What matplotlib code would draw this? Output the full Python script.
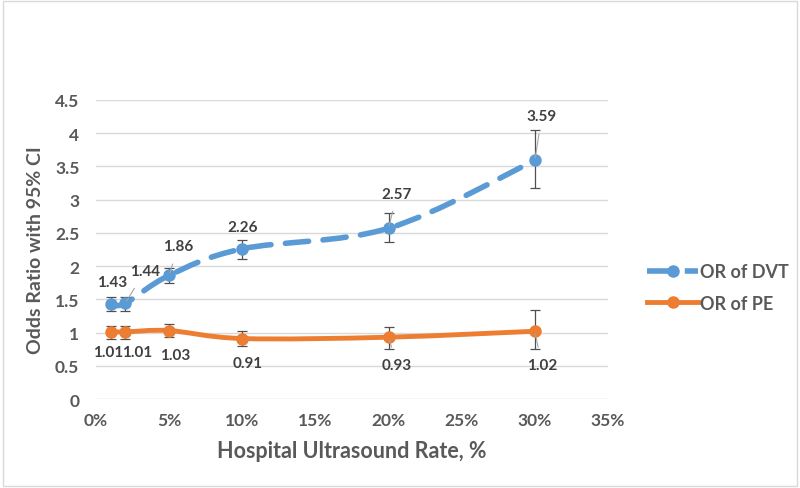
import matplotlib
matplotlib.use("Agg")
import matplotlib.pyplot as plt
from matplotlib.path import Path
from matplotlib.patches import PathPatch, Rectangle
from matplotlib.lines import Line2D
from matplotlib.ticker import FuncFormatter
import numpy as np

# ---- data ----
rates = [1, 2, 5, 10, 20, 30]          # hospital ultrasound rate, %
dvt_or = [1.43, 1.44, 1.86, 2.26, 2.57, 3.59]
dvt_lo = [1.32, 1.33, 1.75, 2.10, 2.37, 3.18]
dvt_hi = [1.53, 1.54, 1.97, 2.39, 2.80, 4.05]
pe_or = [1.01, 1.01, 1.03, 0.91, 0.93, 1.02]
pe_lo = [0.90, 0.90, 0.93, 0.80, 0.76, 0.76]
pe_hi = [1.10, 1.10, 1.13, 1.03, 1.09, 1.34]
series_names = ["OR of DVT", "OR of PE"]
x_ticks = [0, 5, 10, 15, 20, 25, 30, 35]
y_ticks = [0, 0.5, 1, 1.5, 2, 2.5, 3, 3.5, 4, 4.5]

BLUE = "#5B9BD5"
ORANGE = "#ED7D31"
TXT = "#595959"
LBL = "#404040"
FONT = "Lato"

plt.rcParams["font.family"] = [FONT, "DejaVu Sans"]

fig = plt.figure(figsize=(8, 4.89), dpi=100)
ax = fig.add_axes([0.12, 0.182, 0.64, 0.6115])

# frame around whole chart
fig.patches.append(Rectangle((0.004, 0.004), 0.992, 0.992, transform=fig.transFigure,
                             fill=False, edgecolor="#D9D9D9", linewidth=1))


def smooth_path(xs, ys):
    pts = np.column_stack([xs, ys]).astype(float)
    n = len(pts)
    verts = [pts[0]]
    codes = [Path.MOVETO]
    for i in range(n - 1):
        p0 = pts[i - 1] if i > 0 else pts[i]
        p1 = pts[i]
        p2 = pts[i + 1]
        p3 = pts[i + 2] if i + 2 < n else pts[i + 1]
        c1 = p1 + (p2 - p0) / 6.0
        c2 = p2 - (p3 - p1) / 6.0
        verts += [c1, c2, p2]
        codes += [Path.CURVE4] * 3
    return Path(verts, codes)


# lines
ax.add_patch(PathPatch(smooth_path(rates, dvt_or), fill=False, edgecolor=BLUE,
                       linewidth=4, linestyle=(0, (4.2, 2.6)), capstyle="round", zorder=3))
ax.add_patch(PathPatch(smooth_path(rates, pe_or), fill=False, edgecolor=ORANGE,
                       linewidth=3.5, zorder=3))

# error bars + markers
for vals, lo, hi, col in [(dvt_or, dvt_lo, dvt_hi, BLUE), (pe_or, pe_lo, pe_hi, ORANGE)]:
    v = np.array(vals)
    yerr = [v - np.array(lo), np.array(hi) - v]
    ax.errorbar(rates, v, yerr=yerr, fmt="none", ecolor="#505050", elinewidth=0.9,
                capsize=3.5, capthick=0.9, zorder=4)
    ax.plot(rates, v, "o", color=col, markersize=8, zorder=5)

# data labels (offsets in points)
dvt_off = [(1, 16), (14, 23), (6.5, 21), (0, 16), (6, 25), (5, 32)]
dvt_lead = [False, True, True, False, True, True]
for x, y, (dx, dy), lead in zip(rates, dvt_or, dvt_off, dvt_lead):
    ax.annotate(f"{y:.2f}", (x, y), xytext=(dx, dy), textcoords="offset points",
                ha="center", va="center", fontsize=11, fontweight="bold", color=LBL,
                arrowprops=dict(arrowstyle="-", color="#A6A6A6", lw=0.8,
                                shrinkA=6, shrinkB=2) if lead else None, zorder=6)
pe_off = [(-1.5, -14.5), (8.5, -14.5), (4, -17.5), (4, -17.5), (6, -20), (5, -24.5)]
pe_lead = [False, False, False, False, True, True]
for x, y, (dx, dy), lead in zip(rates, pe_or, pe_off, pe_lead):
    ax.annotate(f"{y:.2f}", (x, y), xytext=(dx, dy), textcoords="offset points",
                ha="center", va="center", fontsize=11, fontweight="bold", color=LBL,
                arrowprops=dict(arrowstyle="-", color="#A6A6A6", lw=0.8,
                                shrinkA=6, shrinkB=2) if lead else None, zorder=6)

# axes styling
ax.set_xlim(0, 35)
ax.set_ylim(0, 4.5)
ax.set_xticks(x_ticks)
ax.set_yticks(y_ticks)
ax.xaxis.set_major_formatter(FuncFormatter(lambda v, p: f"{int(v)}%"))
ax.yaxis.set_major_formatter(FuncFormatter(lambda v, p: f"{v:g}"))
ax.grid(axis="y", color="#D9D9D9", linewidth=1)
ax.set_axisbelow(True)
for s in ax.spines.values():
    s.set_visible(False)
ax.tick_params(axis="x", length=0, labelsize=12.5, colors=TXT, pad=9)
ax.tick_params(axis="y", length=0, labelsize=12.5, colors=TXT, pad=12)
for t in ax.get_xticklabels() + ax.get_yticklabels():
    t.set_fontweight("bold")

ax.set_xlabel("Hospital Ultrasound Rate, %", fontsize=15.5, fontweight="bold", color=TXT, labelpad=9)
ax.set_ylabel("Odds Ratio with 95% CI", fontsize=14, fontweight="bold", color=TXT, labelpad=8)

handles = [
    Line2D([], [], color=BLUE, lw=4, linestyle=(0, (4.2, 2.6)), marker="o", markersize=8),
    Line2D([], [], color=ORANGE, lw=3.5, marker="o", markersize=8),
]
leg = fig.legend(handles, series_names, loc="center left", bbox_to_anchor=(0.80, 0.41),
                 frameon=False, fontsize=13, handlelength=2.8, labelspacing=0.8,
                 handletextpad=0.1, borderaxespad=0)
for t in leg.get_texts():
    t.set_color(TXT)
    t.set_fontweight("bold")

fig.savefig("out.png", dpi=100)
